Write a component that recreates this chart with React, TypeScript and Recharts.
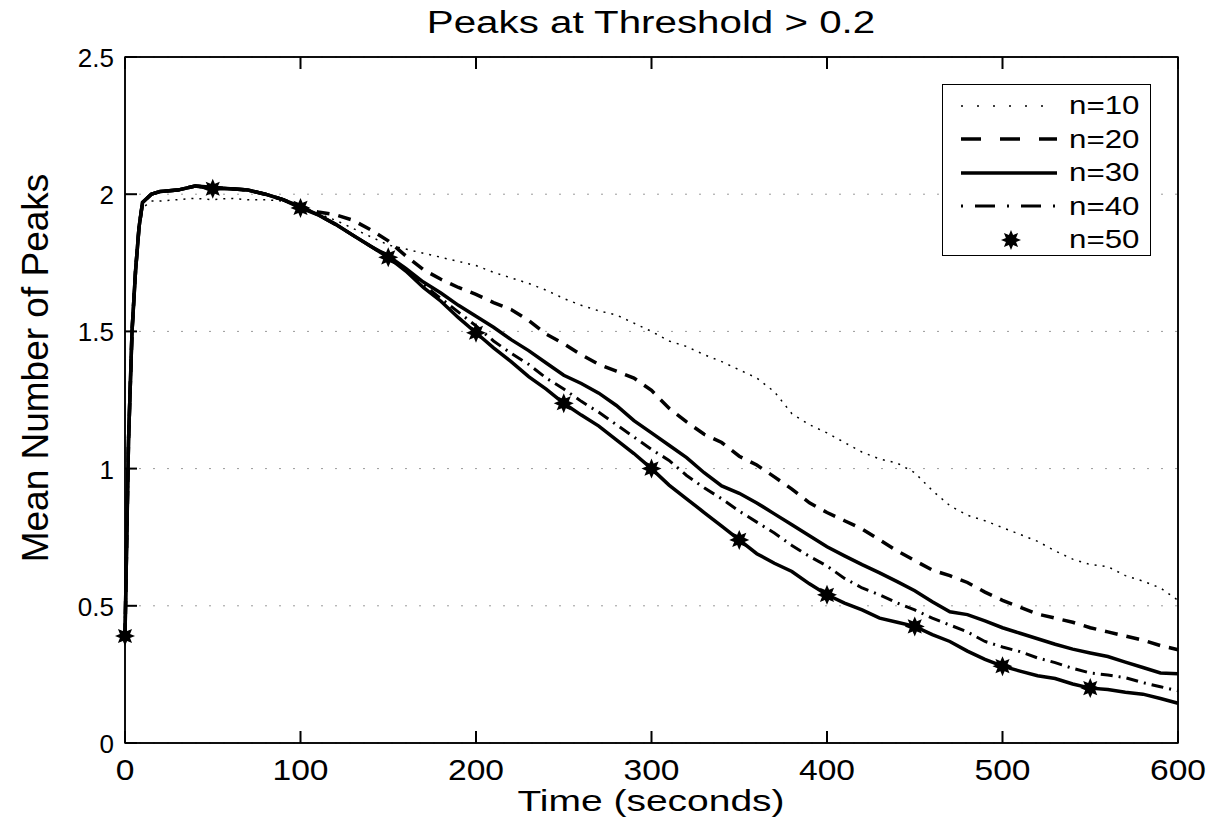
import React from "react";
import { LineChart, Line, XAxis, YAxis, CartesianGrid, ReferenceArea } from "recharts";

// time (s) of every sample
const times = [
  0, 2, 4, 6, 8, 10, 15, 20, 30, 40, 50, 60, 70, 80, 90, 100, 110, 120, 130, 140,
  150, 160, 170, 180, 190, 200, 210, 220, 230, 240, 250, 260, 270, 280, 290, 300,
  310, 320, 330, 340, 350, 360, 370, 380, 390, 400, 410, 420, 430, 440, 450, 460,
  470, 480, 490, 500, 510, 520, 530, 540, 550, 560, 570, 580, 590, 600,
];

const n10 = [
  0.39, 1.1, 1.5, 1.72, 1.87, 1.95, 1.975, 1.975, 1.98, 1.985, 1.98, 1.985, 1.98, 1.98, 1.975, 1.955, 1.93, 1.905, 1.875, 1.845,
  1.815, 1.8, 1.785, 1.77, 1.755, 1.74, 1.715, 1.695, 1.675, 1.65, 1.62, 1.595, 1.575, 1.56, 1.53, 1.5,
  1.465, 1.445, 1.415, 1.39, 1.36, 1.33, 1.28, 1.2, 1.16, 1.13, 1.095, 1.06, 1.035, 1.02, 0.985, 0.92,
  0.865, 0.83, 0.81, 0.785, 0.76, 0.735, 0.7, 0.67, 0.65, 0.643, 0.61, 0.59, 0.565, 0.52,
];

const n20 = [
  0.39, 1.1, 1.5, 1.72, 1.88, 1.97, 2.0, 2.01, 2.015, 2.03, 2.025, 2.02, 2.015, 2.0, 1.98, 1.955, 1.935, 1.925, 1.905, 1.87,
  1.83, 1.775, 1.725, 1.69, 1.66, 1.635, 1.605, 1.58, 1.54, 1.49, 1.455, 1.415, 1.38, 1.355, 1.33, 1.285,
  1.22, 1.17, 1.125, 1.095, 1.045, 1.013, 0.97, 0.925, 0.875, 0.84, 0.81, 0.78, 0.74, 0.7, 0.665, 0.63,
  0.61, 0.585, 0.55, 0.52, 0.495, 0.47, 0.455, 0.44, 0.42, 0.405, 0.39, 0.375, 0.355, 0.34,
];

const n30 = [
  0.39, 1.1, 1.5, 1.72, 1.88, 1.97, 2.0, 2.01, 2.015, 2.03, 2.025, 2.02, 2.015, 2.0, 1.98, 1.955, 1.925, 1.89, 1.85, 1.81,
  1.775, 1.73, 1.68, 1.64, 1.595, 1.555, 1.515, 1.47, 1.43, 1.385, 1.34, 1.31, 1.275, 1.23, 1.175, 1.13,
  1.085, 1.04, 0.985, 0.937, 0.91, 0.875, 0.835, 0.795, 0.755, 0.715, 0.682, 0.65, 0.62, 0.588, 0.555, 0.515,
  0.478, 0.468, 0.445, 0.42, 0.4, 0.38, 0.36, 0.342, 0.328, 0.315, 0.295, 0.275, 0.255, 0.252,
];

const n40 = [
  0.39, 1.1, 1.5, 1.72, 1.88, 1.97, 2.0, 2.01, 2.015, 2.03, 2.025, 2.02, 2.015, 2.0, 1.98, 1.955, 1.925, 1.89, 1.85, 1.81,
  1.77, 1.725, 1.67, 1.62, 1.57, 1.52, 1.465, 1.42, 1.38, 1.33, 1.29, 1.245, 1.205, 1.16, 1.115, 1.07,
  1.03, 0.975, 0.93, 0.89, 0.845, 0.805, 0.765, 0.72, 0.68, 0.645, 0.6, 0.565, 0.54, 0.51, 0.485, 0.455,
  0.43, 0.405, 0.37, 0.35, 0.333, 0.31, 0.293, 0.272, 0.255, 0.248, 0.238, 0.22, 0.205, 0.19,
];

const n50 = [
  0.39, 1.1, 1.5, 1.72, 1.88, 1.97, 2.0, 2.01, 2.015, 2.03, 2.02, 2.02, 2.015, 2.0, 1.98, 1.95, 1.925, 1.89, 1.85, 1.81,
  1.77, 1.72, 1.66, 1.61, 1.55, 1.495, 1.44, 1.39, 1.335, 1.29, 1.238, 1.195, 1.155, 1.105, 1.055, 1.0,
  0.94, 0.89, 0.84, 0.79, 0.74, 0.69, 0.655, 0.625, 0.58, 0.54, 0.51, 0.485, 0.455, 0.44, 0.425, 0.395,
  0.37, 0.335, 0.305, 0.28, 0.262, 0.245, 0.235, 0.215, 0.2, 0.195, 0.185, 0.178, 0.162, 0.145,
];

const xTicks = [0, 100, 200, 300, 400, 500, 600];
const yTicks = [0, 0.5, 1, 1.5, 2, 2.5];
const markerTimes = [0, 50, 100, 150, 200, 250, 300, 350, 400, 450, 500, 550];

const FONT = "'Liberation Sans', Arial, Helvetica, sans-serif";

const series = [
  { key: "n10", name: "n=10", values: n10, dash: "2 6", legendDash: "2 14", width: 1.5 },
  { key: "n20", name: "n=20", values: n20, dash: "13 9", legendDash: "20 19", width: 3.5 },
  { key: "n30", name: "n=30", values: n30, dash: undefined, legendDash: undefined, width: 3.5 },
  { key: "n40", name: "n=40", values: n40, dash: "12 6 2 6", legendDash: "2 12 20 12", width: 3 },
  { key: "n50", name: "n=50", values: n50, dash: undefined, legendDash: undefined, width: 3.5 },
];

const chartData = times.map((t, i) => {
  const row: Record<string, number> = { t };
  series.forEach((s) => {
    row[s.key] = s.values[i];
  });
  return row;
});

const Star = ({ cx, cy, r = 10 }: { cx: number; cy: number; r?: number }) => {
  const pts: string[] = [];
  for (let k = 0; k < 16; k++) {
    const a = (Math.PI * k) / 8;
    const rad = k % 2 === 0 ? r : r * 0.55;
    pts.push(`${cx + rad * Math.sin(a)},${cy - rad * Math.cos(a)}`);
  }
  return <polygon points={pts.join(" ")} fill="#000" />;
};

const starDot = (props: any) => {
  const { cx, cy, payload, index } = props;
  if (!markerTimes.includes(payload.t)) return <g key={`m${index}`} />;
  return <Star key={`m${index}`} cx={cx} cy={cy} />;
};

const TICK_LEN = 12;
const TICK_W = 2;

// ticks drawn by hand so they point into the plot, like the original
const BottomTick = (p: any) => (
  <g>
    <rect x={p.x - TICK_W / 2} y={p.y - TICK_LEN} width={TICK_W} height={TICK_LEN} fill="#000" />
    <text
      transform={`translate(${p.x},${p.y + 37}) scale(1.12,1)`}
      textAnchor="middle"
      fill="#000"
      fontSize={30}
      fontFamily={FONT}
    >
      {p.payload.value}
    </text>
  </g>
);

const TopTick = (p: any) => (
  <rect x={p.x - TICK_W / 2} y={p.y} width={TICK_W} height={TICK_LEN} fill="#000" />
);

const LeftTick = (p: any) => (
  <g>
    <rect x={p.x} y={p.y - TICK_W / 2} width={TICK_LEN} height={TICK_W} fill="#000" />
    <text
      x={p.x - 11}
      y={p.y + 10}
      textAnchor="end"
      fill="#000"
      fontSize={26}
      fontFamily={FONT}
    >
      {p.payload.value}
    </text>
  </g>
);

const RightTick = (p: any) => (
  <rect x={p.x - TICK_LEN} y={p.y - TICK_W / 2} width={TICK_LEN} height={TICK_W} fill="#000" />
);

export default function App() {
  return (
    <div style={{ position: "absolute", left: 0, top: 0, width: 1207, height: 818, background: "#fff", fontFamily: FONT }}>
      <LineChart
        width={1207}
        height={818}
        data={chartData}
        margin={{ top: 56, right: 28, left: 0, bottom: 0 }}
      >
        <CartesianGrid
          vertical={false}
          horizontal
          stroke="#9a9a9a"
          strokeDasharray="2 12"
          xAxisId="b"
          yAxisId="l"
        />
        <XAxis
          xAxisId="b"
          dataKey="t"
          type="number"
          domain={[0, 600]}
          ticks={xTicks}
          height={75}
          stroke="#000"
          strokeWidth={1.5}
          tickSize={0}
          tickMargin={0}
          tickLine={false}
          tick={<BottomTick />}
          label={{
            content: () => (
              <text
                transform="translate(651,811) scale(1.3,1)"
                textAnchor="middle"
                fill="#000"
                fontSize={30}
                fontFamily={FONT}
              >
                Time (seconds)
              </text>
            ),
          }}
        />
        <XAxis
          xAxisId="t"
          orientation="top"
          dataKey="t"
          type="number"
          domain={[0, 600]}
          ticks={xTicks}
          height={1}
          stroke="#000"
          strokeWidth={1.5}
          tickSize={0}
          tickMargin={0}
          tickLine={false}
          tick={<TopTick />}
        />
        <YAxis
          yAxisId="l"
          type="number"
          domain={[0, 2.5]}
          ticks={yTicks}
          width={125}
          stroke="#000"
          strokeWidth={1.5}
          tickSize={0}
          tickMargin={0}
          tickLine={false}
          tick={<LeftTick />}
          label={{
            content: () => (
              <text
                x={38}
                y={368}
                transform="rotate(-90 38 368)"
                textAnchor="middle"
                dominantBaseline="middle"
                fill="#000"
                fontSize={37}
                fontFamily={FONT}
              >
                Mean Number of Peaks
              </text>
            ),
          }}
        />
        <YAxis
          yAxisId="r"
          orientation="right"
          type="number"
          domain={[0, 2.5]}
          ticks={yTicks}
          width={1}
          stroke="#000"
          strokeWidth={1.5}
          tickSize={0}
          tickMargin={0}
          tickLine={false}
          tick={<RightTick />}
        />
        <ReferenceArea
          xAxisId="b"
          yAxisId="l"
          x1={0}
          x2={600}
          y1={0}
          y2={2.5}
          fill="none"
          stroke="#000"
          strokeWidth={1.5}
          fillOpacity={0}
        />
        {series.map((s) => (
          <Line
            key={s.key}
            xAxisId="b"
            yAxisId="l"
            type="linear"
            dataKey={s.key}
            name={s.name}
            stroke="#000"
            strokeWidth={s.width}
            strokeDasharray={s.dash}
            dot={s.key === "n50" ? starDot : false}
            activeDot={false}
            isAnimationActive={false}
          />
        ))}
      </LineChart>

      <div
        style={{
          position: "absolute",
          left: 651,
          top: 5,
          transform: "translateX(-50%) scaleX(1.3)",
          whiteSpace: "nowrap",
          fontSize: 31,
          color: "#000",
        }}
      >
        Peaks at Threshold &gt; 0.2
      </div>

      <div
        style={{
          position: "absolute",
          left: 942,
          top: 84,
          width: 209,
          height: 172,
          border: "1.5px solid #000",
          boxSizing: "border-box",
          background: "#fff",
          paddingTop: 4,
        }}
      >
        {series.map((s) => (
          <div key={s.key} style={{ display: "flex", alignItems: "center", height: 33.5 }}>
            <svg width={126} height={20} style={{ display: "block" }}>
              {s.key === "n50" ? (
                <Star cx={68} cy={10} />
              ) : (
                <line
                  x1={18}
                  x2={114}
                  y1={10}
                  y2={10}
                  stroke="#000"
                  strokeWidth={s.width}
                  strokeDasharray={s.legendDash}
                />
              )}
            </svg>
            <span
              style={{
                fontSize: 25,
                color: "#000",
                display: "inline-block",
                transform: "scaleX(1.25)",
                transformOrigin: "left center",
              }}
            >
              {s.name}
            </span>
          </div>
        ))}
      </div>
    </div>
  );
}
